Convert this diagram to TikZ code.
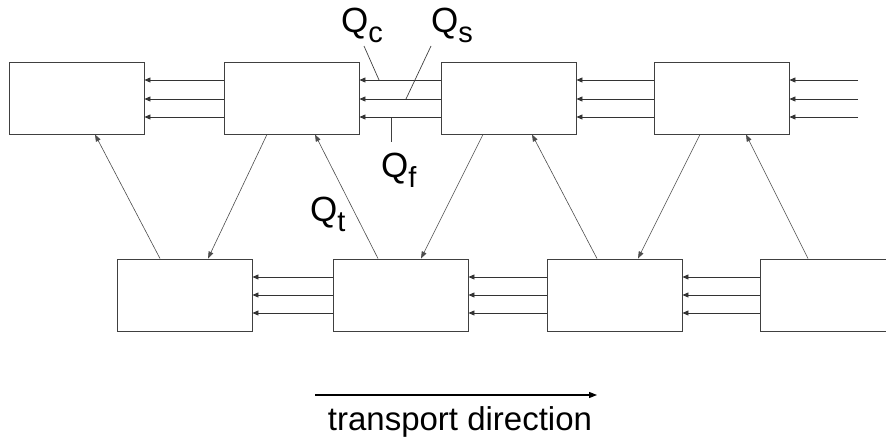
\documentclass[tikz,border=0pt]{standalone}
\usepackage{fontspec}
\setmainfont{Liberation Sans}
\usetikzlibrary{arrows.meta}
\begin{document}
\begin{tikzpicture}[x=1pt,y=-1pt,
  cell/.style={draw=black!75,line width=0.9pt,minimum width=135pt,minimum height=72pt,inner sep=0pt,fill=white},
  flow/.style={draw=black!80,line width=0.9pt,-{Triangle[length=6pt,width=5pt]}},
  exch/.style={draw=black!70,line width=0.6pt,-{Triangle[length=7pt,width=5pt]}},
  lead/.style={draw=black!75,line width=0.7pt},
  qlab/.style={anchor=base west,inner sep=0pt,font=\fontsize{35}{40}\selectfont},
  note/.style={anchor=base,inner sep=0pt,font=\fontsize{33}{38}\selectfont}]
\useasboundingbox (0,0) rectangle (886,441);
\clip (0,0) rectangle (886,441);

% upper row of cells
\node[cell] (A) at (76.5,98) {};
\node[cell] (B) at (291.5,98) {};
\node[cell] (C) at (508.5,98) {};
\node[cell] (D) at (721.5,98) {};
% lower row of cells
\node[cell] (E) at (184.5,295) {};
\node[cell] (F) at (400.5,295) {};
\node[cell] (G) at (614.5,295) {};
\node[cell] (H) at (827.5,295) {};

% inflow from the right edge
\coordinate (in1) at (858,80);
\coordinate (in2) at (858,99);
\coordinate (in3) at (858,117);

% three parallel fluxes between neighbouring cells
\foreach \dy in {-18,1,19} {
  \draw[flow] ([yshift=-\dy]B.west) -- ([yshift=-\dy]A.east);
  \draw[flow] ([yshift=-\dy]C.west) -- ([yshift=-\dy]B.east);
  \draw[flow] ([yshift=-\dy]D.west) -- ([yshift=-\dy]C.east);
}
\draw[flow] (in1) -- (D.east |- in1);
\draw[flow] (in2) -- (D.east |- in2);
\draw[flow] (in3) -- (D.east |- in3);
\foreach \dy in {-18,0,18} {
  \draw[flow] ([yshift=-\dy]F.west) -- ([yshift=-\dy]E.east);
  \draw[flow] ([yshift=-\dy]G.west) -- ([yshift=-\dy]F.east);
  \draw[flow] ([yshift=-\dy]H.west) -- ([yshift=-\dy]G.east);
}

% exchange between the two rows
\draw[exch] ([xshift=-24.5pt]E.north) -- ([xshift=18.5pt]A.south);
\draw[exch] ([xshift=-24.5pt]B.south) -- ([xshift=23.5pt]E.north);
\draw[exch] ([xshift=-22.5pt]F.north) -- ([xshift=23.5pt]B.south);
\draw[exch] ([xshift=-25.5pt]C.south) -- ([xshift=20.5pt]F.north);
\draw[exch] ([xshift=-17.5pt]G.north) -- ([xshift=23.5pt]C.south);
\draw[exch] ([xshift=-21.5pt]D.south) -- ([xshift=23.5pt]G.north);
\draw[exch] ([xshift=-19.5pt]H.north) -- ([xshift=24.5pt]D.south);

% flux labels with leader lines
\node[qlab] (qc) at (341,33) {Q\raisebox{-10pt}{\fontsize{29}{32}\selectfont c}};
\node[qlab] (qs) at (431,33) {Q\raisebox{-10pt}{\fontsize{29}{32}\selectfont s}};
\node[qlab] (qf) at (381,177) {Q\raisebox{-10pt}{\fontsize{29}{32}\selectfont f}};
\node[qlab] (qt) at (310,221) {Q\raisebox{-10pt}{\fontsize{29}{32}\selectfont t}};
\coordinate (qcTop) at (364,46);
\coordinate (qcEnd) at (379,80);
\coordinate (qsTop) at (431,46);
\coordinate (qsEnd) at (406,99);
\coordinate (qfTop) at (391,118);
\coordinate (qfEnd) at (391,142);
\draw[lead] (qcTop) -- (qcEnd);
\draw[lead] (qsTop) -- (qsEnd);
\draw[lead] (qfTop) -- (qfEnd);

% transport direction
\coordinate (dirL) at (315,395);
\coordinate (dirR) at (597,395);
\draw[draw=black,line width=1.2pt,-{Triangle[length=8pt,width=6pt]}] (dirL) -- (dirR);
\node[note] (dir) at (460,430) {transport direction};
\end{tikzpicture}
\end{document}
